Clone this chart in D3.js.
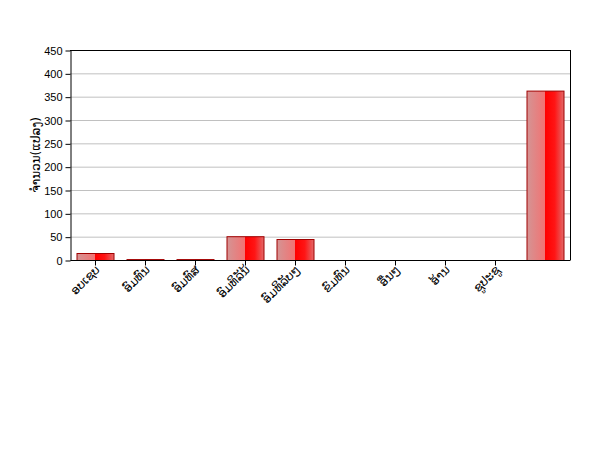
<!DOCTYPE html>
<html><head><meta charset="utf-8">
<script src="https://cdn.jsdelivr.net/npm/d3@7"></script>
<style>body{margin:0;background:#fff}svg{display:block}</style>
</head><body>
<script>
const categories = ["ອບເຊບ","ອົມທົນ","ອົມທົສ","ອົມທິລັນ້","ອົມທິລັບໆ","ຂົມທົນ","ອື່ນໆ","ອ້ານ","ຊູປະຊູ",""];
const values = [15, 2, 2, 51, 45, 0, 0, 0, 0, 363];
const yTicks = [0,50,100,150,200,250,300,350,400,450];
const yTitle = "ຈຳນວນ(ແປລງ)";

const W=600,H=450, L=70, R=570, T=50, B=260;
const svg=d3.select("body").append("svg").attr("width",W).attr("height",H);
const defs=svg.append("defs");
const g=defs.append("linearGradient").attr("id","bg").attr("x1","0").attr("x2","1").attr("y1","0").attr("y2","0");
[[0,"#d49494"],[0.49,"#f27272"],[0.5,"#ff0000"],[0.75,"#ff1515"],[1,"#e26a6a"]].forEach(s=>g.append("stop").attr("offset",s[0]).attr("stop-color",s[1]));

const x=d3.scaleBand().domain(d3.range(categories.length)).range([L,R]).paddingInner(0.26).paddingOuter(0.13);
const y=d3.scaleLinear().domain([0,450]).range([B,T]);

// grid
svg.append("g").selectAll("line").data(yTicks.filter(d=>d>0&&d<450)).join("line")
 .attr("x1",L).attr("x2",R).attr("y1",d=>y(d)+0.5).attr("y2",d=>y(d)+0.5).attr("stroke","#c0c0c0");
// frame top/right
svg.append("line").attr("x1",L).attr("x2",R+0.5).attr("y1",T+0.5).attr("y2",T+0.5).attr("stroke","#000");
svg.append("line").attr("x1",R+0.5).attr("x2",R+0.5).attr("y1",T).attr("y2",B).attr("stroke","#000");

// bars
svg.append("g").selectAll("rect").data(values).join("rect")
 .attr("x",(d,i)=>x(i)+0.5).attr("width",x.bandwidth())
 .attr("y",d=>y(d)+0.5).attr("height",d=>Math.max(0,B-y(d)))
 .attr("fill","url(#bg)").attr("stroke","#a00000").attr("stroke-width",1)
 .style("display",d=>d>0?null:"none");

// y axis
const ya=svg.append("g").attr("transform",`translate(${L+0.5},0.5)`)
 .call(d3.axisLeft(y).tickValues(yTicks).tickSize(5).tickPadding(3).tickSizeOuter(0));
ya.selectAll("text").attr("font-family","Liberation Sans, Arial, sans-serif").attr("font-size",11).attr("fill","#000");
ya.select(".domain").attr("stroke","#000");

// x axis
const xc=d3.scalePoint().domain(d3.range(categories.length)).range([L+25,R-25]);
const xa=svg.append("g").attr("transform",`translate(0.5,${B+0.5})`);
xa.append("line").attr("x1",L).attr("x2",R).attr("stroke","#000");
xa.selectAll("line.t").data(d3.range(categories.length-1)).join("line").attr("class","t")
 .attr("x1",d=>xc(d)).attr("x2",d=>xc(d)).attr("y1",0).attr("y2",5).attr("stroke","#000");
xa.selectAll("text").data(categories).join("text")
 .attr("transform",(d,i)=>`translate(${xc(i)+5},${10}) rotate(-45)`)
 .attr("text-anchor","end").attr("font-family","DejaVu Sans, sans-serif").attr("font-size",12).text(d=>d);

// y title
svg.append("text").attr("transform",`translate(40,${(T+B)/2}) rotate(-90)`)
 .attr("text-anchor","middle").attr("font-family","DejaVu Sans, sans-serif").attr("font-size",12).text(yTitle);
</script>
</body></html>
